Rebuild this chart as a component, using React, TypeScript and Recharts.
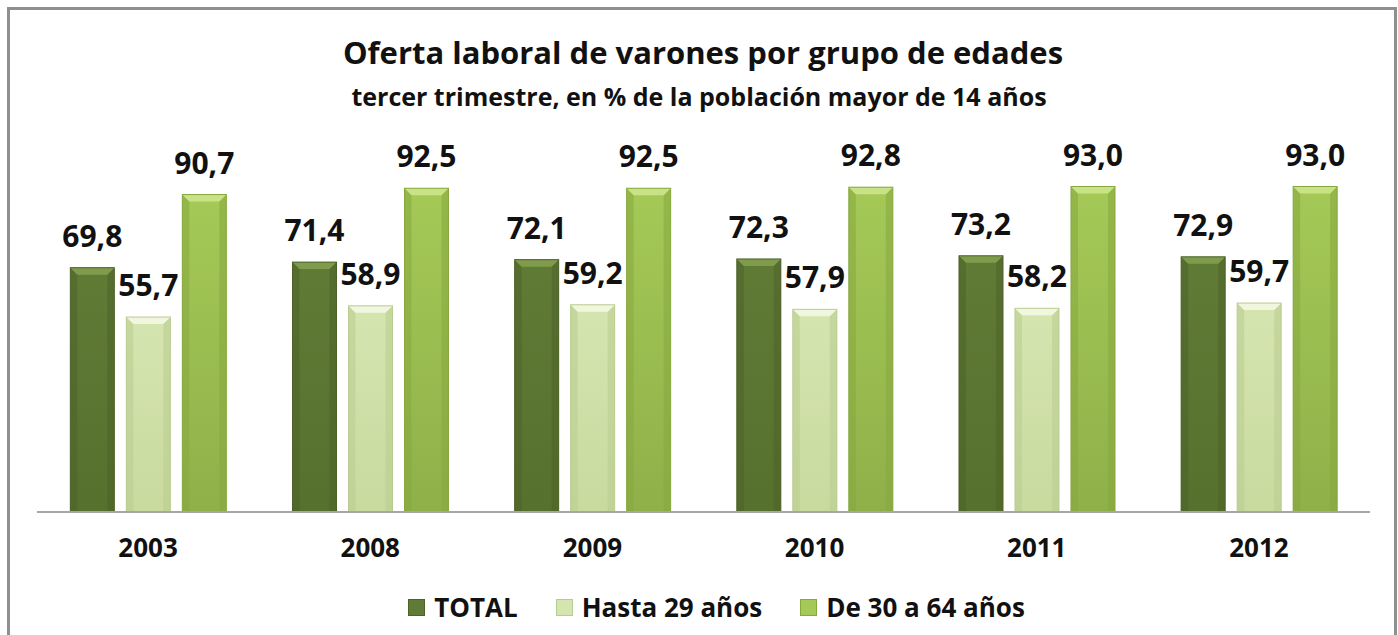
import React from 'react';
import { BarChart, Bar, XAxis, YAxis, LabelList, Legend } from 'recharts';

// años del tercer trimestre
const years = ['2003', '2008', '2009', '2010', '2011', '2012'];
const total = [69.8, 71.4, 72.1, 72.3, 73.2, 72.9];
const hasta29 = [55.7, 58.9, 59.2, 57.9, 58.2, 59.7];
const de30a64 = [90.7, 92.5, 92.5, 92.8, 93.0, 93.0];

const data = years.map((year, i) => ({
  year,
  total: total[i],
  hasta29: hasta29[i],
  de30a64: de30a64[i]
}));

const FONT = '"Open Sans", Lato, sans-serif';

const SERIES = [
  { key: 'total', name: 'TOTAL', top: '#7f9c4c', main: '#607b36', edge: '#4c6228', bottom: '#56702e' },
  { key: 'hasta29', name: 'Hasta 29 años', top: '#f1f7de', main: '#d5e5b0', edge: '#b9cc90', bottom: '#c8da9e' },
  { key: 'de30a64', name: 'De 30 a 64 años', top: '#c9e286', main: '#a5c957', edge: '#86a83e', bottom: '#8fb049' }
] as const;

type Colors = (typeof SERIES)[number];

// bar with the bevelled look of the original
const bevelShape = (c: Colors) => (props: any) => {
  const { x, y, width, height } = props;
  if (!height || height <= 0) return null;
  const b = 7;
  const id = `grad-${c.key}`;
  return (
    <g>
      <defs>
        <linearGradient id={id} x1="0" y1="0" x2="0" y2="1">
          <stop offset="0%" stopColor={c.main} />
          <stop offset="100%" stopColor={c.bottom} />
        </linearGradient>
      </defs>
      <rect x={x} y={y} width={width} height={height} fill={`url(#${id})`} />
      <polygon points={`${x},${y} ${x + b},${y + b} ${x + b},${y + height} ${x},${y + height}`} fill={c.edge} opacity={0.55} />
      <polygon points={`${x + width},${y} ${x + width - b},${y + b} ${x + width - b},${y + height} ${x + width},${y + height}`} fill={c.edge} opacity={0.55} />
      <polygon points={`${x},${y} ${x + width},${y} ${x + width - b},${y + b} ${x + b},${y + b}`} fill={c.top} />
      <rect x={x} y={y} width={width} height={height} fill="none" stroke={c.edge} strokeWidth={1} />
    </g>
  );
};

const fmt = (v: any) => Number(v).toFixed(1).replace('.', ',');

const renderLegend = () => (
  <div
    style={{
      height: 30,
      display: 'flex',
      justifyContent: 'center',
      alignItems: 'center',
      gap: 38,
      fontFamily: FONT,
      fontWeight: 700,
      fontSize: 26,
      lineHeight: '30px',
      color: '#111',
      paddingLeft: 26
    }}
  >
    {SERIES.map((s) => (
      <span key={s.key} style={{ display: 'flex', alignItems: 'center' }}>
        <span
          style={{
            display: 'inline-block',
            width: 17,
            height: 17,
            marginRight: 9,
            background: s.main,
            border: `1px solid ${s.edge}`,
            boxSizing: 'border-box'
          }}
        />
        {s.name}
      </span>
    ))}
  </div>
);

export default function App() {
  return (
    <div
      style={{
        position: 'fixed',
        left: 0,
        top: 0,
        width: 1398,
        height: 635,
        overflow: 'hidden',
        background: '#fff'
      }}
    >
      <div
        style={{
          position: 'absolute',
          left: 7,
          top: 7,
          width: 1390,
          height: 700,
          border: '3px solid #8f8f8f',
          boxSizing: 'border-box'
        }}
      />
      <div
        style={{
          position: 'absolute',
          left: 0,
          top: 33,
          width: 1406,
          textAlign: 'center',
          fontFamily: FONT,
          fontWeight: 700,
          fontSize: 31,
          lineHeight: '38px',
          color: '#111'
        }}
      >
        Oferta laboral de varones por grupo de edades
      </div>
      <div
        style={{
          position: 'absolute',
          left: 0,
          top: 81,
          width: 1398,
          textAlign: 'center',
          fontFamily: FONT,
          fontWeight: 700,
          fontSize: 25,
          lineHeight: '30px',
          color: '#111'
        }}
      >
        tercer trimestre, en % de la población mayor de 14 años
      </div>
      <div style={{ position: 'absolute', left: 0, top: 0 }}>
        <BarChart
          width={1398}
          height={635}
          data={data}
          margin={{ top: 162, right: 28, left: 37, bottom: 13 }}
          barCategoryGap="15%"
          barGap={12}
        >
          <XAxis
            dataKey="year"
            height={80}
            tickLine={false}
            tickSize={0}
            tickMargin={27}
            axisLine={{ stroke: '#a6a6a6', strokeWidth: 2 }}
            tick={{ fill: '#111', fontFamily: FONT, fontWeight: 700, fontSize: 26 }}
          />
          <YAxis hide domain={[0, 100]} />
          <Legend verticalAlign="bottom" content={renderLegend} />
          {SERIES.map((s) => (
            <Bar
              key={s.key}
              dataKey={s.key}
              name={s.name}
              fill={s.main}
              isAnimationActive={false}
              shape={bevelShape(s)}
            >
              <LabelList
                dataKey={s.key}
                position="top"
                offset={21}
                formatter={fmt}
                style={{ fill: '#111', fontFamily: FONT, fontWeight: 700, fontSize: 30 }}
              />
            </Bar>
          ))}
        </BarChart>
      </div>
    </div>
  );
}
